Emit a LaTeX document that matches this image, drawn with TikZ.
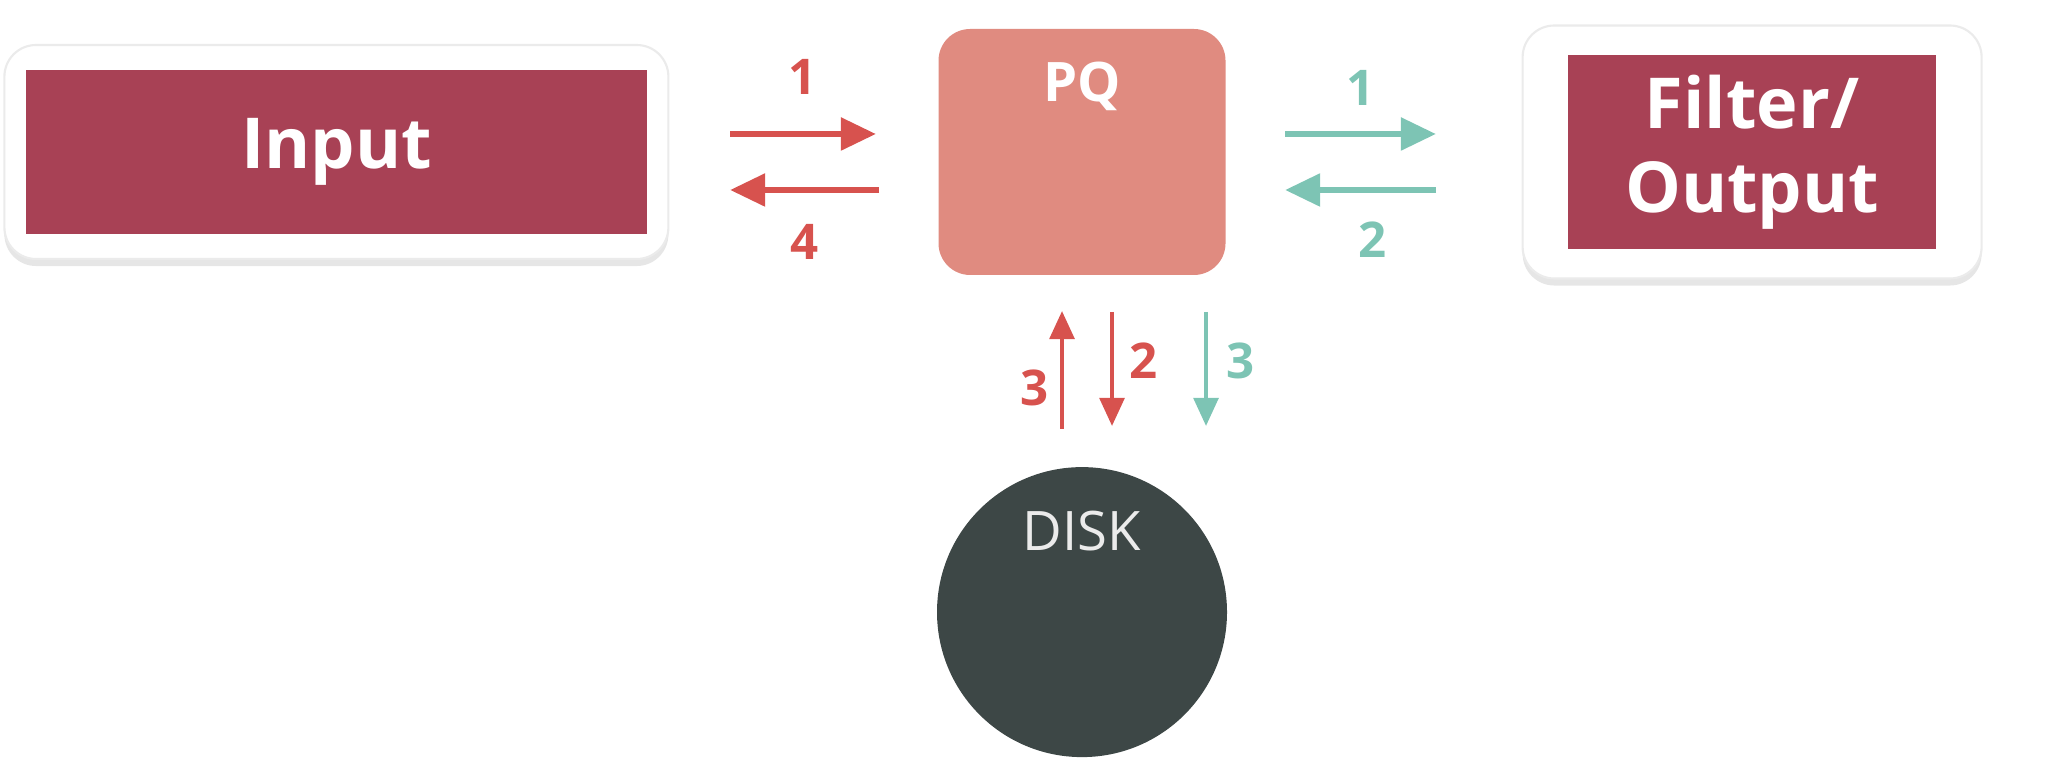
\documentclass[tikz,border=0pt]{standalone}
\usepackage{fontspec}
\setmainfont{Open Sans}
\usetikzlibrary{shapes, positioning, arrows.meta, shadows}

\definecolor{boxred}{HTML}{A84155}
\definecolor{pqred}{HTML}{E08B80}
\definecolor{arrred}{HTML}{D7524E}
\definecolor{arrteal}{HTML}{7DC4B4}
\definecolor{diskgray}{HTML}{3D4746}

\begin{document}
\begin{tikzpicture}[semithick, node distance = 2cm,
  outerbox/.style={draw=black!8, fill=white, rounded corners=9pt,
    drop shadow={shadow xshift=0pt, shadow yshift=-2pt, opacity=.2}},
  innerbox/.style={fill=boxred, text=white, align=center,
    font=\bfseries\fontsize{20}{24}\selectfont},
  pqbox/.style={fill=pqred, rounded corners=9pt, minimum width=2.87cm, minimum height=2.46cm},
  disk/.style={circle, fill=diskgray, minimum size=2.9cm, inner sep=0pt},
  redarrow/.style={draw=arrred, line width=1.9pt, -{Triangle[length=10pt, width=9pt, fill=arrred]}},
  tealarrow/.style={draw=arrteal, line width=1.9pt, -{Triangle[length=10pt, width=9pt, fill=arrteal]}},
  thinred/.style={draw=arrred, line width=1.2pt, -{Triangle[length=8pt, width=7pt, fill=arrred]}},
  thinteal/.style={draw=arrteal, line width=1.2pt, -{Triangle[length=8pt, width=7pt, fill=arrteal]}},
  num/.style={font=\bfseries\fontsize{14}{16}\selectfont}]

\useasboundingbox (0,0) rectangle (20.56,-7.66);

\node[pqbox, label={[anchor=north, yshift=-2.1mm, text=white, font=\bfseries\fontsize{15.5}{18}\selectfont]north:PQ}]
                                (PQ) at (10.82,-1.52)   {};
\node[outerbox, minimum width=6.64cm, minimum height=2.14cm]
                                (In)[left=2.68cm of PQ]   {};
\node[innerbox, minimum width=6.21cm, minimum height=1.64cm]
                                (InB) at (In.center)   {Input};
\node[outerbox, minimum width=4.59cm, minimum height=2.53cm]
                                (Out)[right=2.95cm of PQ]   {};
\node[innerbox, minimum width=3.68cm, minimum height=1.94cm]
                                (OutB) at (Out.center)   {Filter/\\Output};
\node[disk, label={[anchor=north, yshift=-3.2mm, text=white!92!black, font=\fontsize{15.5}{18}\selectfont]north:DISK}]
                                (Disk)[below=1.90cm of PQ]   {};

% arrow ends
\coordinate (L1a) at (7.30,-1.34);
\coordinate (L1b) at (8.76,-1.34);
\coordinate (L4a) at (8.79,-1.90);
\coordinate (L4b) at (7.30,-1.90);
\coordinate (R1a) at (12.85,-1.34);
\coordinate (R1b) at (14.36,-1.34);
\coordinate (R2a) at (14.36,-1.90);
\coordinate (R2b) at (12.85,-1.90);
\coordinate (D3a) at (10.62,-4.29);
\coordinate (D3b) at (10.62,-3.11);
\coordinate (D2a) at (11.12,-3.12);
\coordinate (D2b) at (11.12,-4.26);
\coordinate (T3a) at (12.06,-3.12);
\coordinate (T3b) at (12.06,-4.26);

\path
(L1a) edge[redarrow]    node[num, text=arrred, above=7pt]{1}    (L1b)
(L4a) edge[redarrow]    node[num, text=arrred, below=5.5pt]{4}    (L4b)
(R1a) edge[tealarrow]   node[num, text=arrteal, above=3.7pt]{1}    (R1b)
(R2a) edge[tealarrow]   node[num, text=arrteal, below=4.7pt, xshift=1.2mm]{2}    (R2b)
(D3a) edge[thinred]     node[num, text=arrred, pos=0.35, left=0pt]{3}    (D3b)
(D2a) edge[thinred]     node[num, text=arrred, pos=0.43, right=1pt]{2}    (D2b)
(T3a) edge[thinteal]    node[num, text=arrteal, pos=0.43, right=2pt]{3}    (T3b);

\end{tikzpicture}
\end{document}
